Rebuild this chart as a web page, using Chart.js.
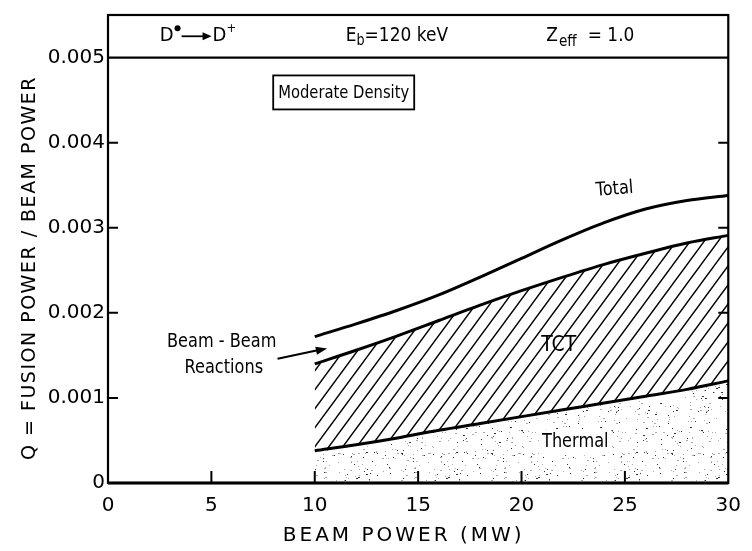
<!DOCTYPE html>
<html>
<head>
<meta charset="utf-8">
<script src="https://cdn.jsdelivr.net/npm/chart.js@4.4.0/dist/chart.umd.min.js"></script>
<style>
  html, body { margin: 0; padding: 0; background: #fff; }
  #wrap { width: 752px; height: 551px; }
</style>
</head>
<body>
<div id="wrap"><canvas id="chart"></canvas></div>
<script>
// beam power (MW)
const beamPower = [10, 12, 14, 16, 18, 20, 22, 24, 26, 28, 30];
// Q values
const qTotal   = [0.00172, 0.00187, 0.00203, 0.00221, 0.00242, 0.00264, 0.00286, 0.00306, 0.00322, 0.00332, 0.00338];
const qTCT     = [0.00140, 0.00156, 0.00173, 0.00191, 0.00209, 0.00226, 0.00242, 0.00257, 0.00270, 0.00282, 0.00291];
const qThermal = [0.00038, 0.00045, 0.00053, 0.00062, 0.00070, 0.00078, 0.00086, 0.00094, 0.00102, 0.00110, 0.00120];
const xTicks = [0, 5, 10, 15, 20, 25, 30];
const yTicks = [0, 0.001, 0.002, 0.003, 0.004, 0.005];

const FONT = '"DejaVu Sans", sans-serif';

const pts = (ys) => beamPower.map((x, i) => ({ x: x, y: ys[i] }));

// hatch pattern for the TCT band
function hatchPattern() {
  const w = 14, h = 19;
  const c = document.createElement("canvas");
  c.width = w; c.height = h;
  const g = c.getContext("2d");
  g.strokeStyle = "#000";
  g.lineWidth = 1.4;
  g.beginPath();
  g.moveTo(-w, 2 * h); g.lineTo(2 * w, -h);
  g.moveTo(-2 * w, 2 * h); g.lineTo(w, -h);
  g.moveTo(0, 2 * h); g.lineTo(3 * w, -h);
  g.stroke();
  return g.createPattern(c, "repeat");
}

// stipple pattern for the thermal area (fixed pseudo-noise, not data)
function stipplePattern() {
  const s = 90;
  const c = document.createElement("canvas");
  c.width = s; c.height = s;
  const g = c.getContext("2d");
  let seed = 98765;
  const next = () => { seed = (seed * 1103515245 + 12345) % 2147483648; return seed / 2147483648; };
  for (let i = 0; i < 240; i++) {
    const x = Math.floor(next() * s), y = Math.floor(next() * s);
    g.fillStyle = next() < 0.35 ? "#333" : "#aaa";
    g.fillRect(x, y, next() < 0.2 ? 2 : 1, 1);
  }
  return g.createPattern(c, "repeat");
}

// text squeezed horizontally to look like the narrow lettering of the plot
function narrowText(ctx, str, x, y, size, sx, align) {
  ctx.save();
  ctx.font = size + "px " + FONT;
  ctx.textAlign = align || "left";
  ctx.translate(x, y);
  ctx.scale(sx, 1);
  ctx.fillText(str, 0, 0);
  const w = ctx.measureText(str).width * sx;
  ctx.restore();
  return w;
}

const framePlugin = {
  id: "frame",
  afterDatasetsDraw(chart) {
    const { ctx, chartArea: a, scales: { x, y } } = chart;
    ctx.save();
    ctx.strokeStyle = "#000";
    ctx.lineWidth = 2.2;
    ctx.strokeRect(a.left, a.top, a.right - a.left, a.bottom - a.top);
    // line at 0.005 under the header band
    const y5 = y.getPixelForValue(0.005);
    ctx.beginPath(); ctx.moveTo(a.left, y5); ctx.lineTo(a.right, y5); ctx.stroke();
    ctx.lineWidth = 3;
    ctx.beginPath(); ctx.moveTo(a.left, a.bottom); ctx.lineTo(a.right, a.bottom); ctx.stroke();
    // inward ticks
    ctx.lineWidth = 2;
    ctx.beginPath();
    yTicks.slice(1, 5).forEach((v) => {
      const py = y.getPixelForValue(v);
      ctx.moveTo(a.left, py); ctx.lineTo(a.left + 10, py);
      ctx.moveTo(a.right, py); ctx.lineTo(a.right - 10, py);
    });
    xTicks.slice(1, 6).forEach((v) => {
      const px = x.getPixelForValue(v);
      ctx.moveTo(px, a.bottom); ctx.lineTo(px, a.bottom - 12);
    });
    ctx.stroke();

    const at = (vx, vy) => [x.getPixelForValue(vx), y.getPixelForValue(vy)];
    ctx.fillStyle = "#000";
    ctx.textBaseline = "middle";

    // header: D0 -> D+
    let [hx, hy] = at(2.5, 0.00525);
    let w = narrowText(ctx, "D", hx, hy, 20, 0.9);
    ctx.beginPath(); ctx.arc(hx + w + 4, hy - 8, 3, 0, Math.PI * 2); ctx.fill();
    ctx.beginPath();
    ctx.lineWidth = 1.8;
    ctx.moveTo(hx + w + 8, hy); ctx.lineTo(hx + w + 32, hy); ctx.stroke();
    ctx.beginPath();
    ctx.moveTo(hx + w + 38, hy); ctx.lineTo(hx + w + 29, hy - 4); ctx.lineTo(hx + w + 29, hy + 4); ctx.closePath(); ctx.fill();
    const w2 = narrowText(ctx, "D", hx + w + 39, hy, 20, 0.9);
    narrowText(ctx, "+", hx + w + 39 + w2, hy - 8, 13, 0.9);

    // Eb = 120 keV
    [hx, hy] = at(11.5, 0.00525);
    w = narrowText(ctx, "E", hx, hy, 20, 0.85);
    w += narrowText(ctx, "b", hx + w, hy + 5, 15, 0.85);
    narrowText(ctx, "=120 keV", hx + w, hy, 20, 0.85);

    // Zeff = 1.0
    [hx, hy] = at(21.2, 0.00525);
    w = narrowText(ctx, "Z", hx, hy, 20, 0.85);
    w += narrowText(ctx, "eff", hx + w + 1, hy + 6, 16, 0.85);
    narrowText(ctx, "= 1.0", hx + w + 12, hy, 20, 0.85);

    // boxed label
    [hx, hy] = at(11.4, 0.00459);
    ctx.lineWidth = 1.8;
    const tw = narrowText(ctx, "Moderate Density", hx, hy + 1, 18, 0.82, "center");
    ctx.strokeRect(hx - tw / 2 - 5, hy - 17, tw + 10, 34);

    // curve labels
    [hx, hy] = at(24.5, 0.00345);
    ctx.save();
    ctx.translate(hx, hy); ctx.rotate(-0.08);
    narrowText(ctx, "Total", 0, 0, 19, 0.85, "center");
    ctx.restore();

    [hx, hy] = at(21.8, 0.00162);
    narrowText(ctx, "TCT", hx, hy, 21, 0.9, "center");

    [hx, hy] = at(22.6, 0.00048);
    ctx.font = "19px " + FONT;
    const th = ctx.measureText("Thermal").width * 0.85;
    ctx.fillStyle = "#fff";
    ctx.fillRect(hx - th / 2 - 3, hy - 13, th + 6, 26);
    ctx.fillStyle = "#000";
    narrowText(ctx, "Thermal", hx, hy, 19, 0.85, "center");

    [hx, hy] = at(5.5, 0.00166);
    narrowText(ctx, "Beam - Beam", hx, hy, 19, 0.85, "center");
    [hx, hy] = at(5.6, 0.00135);
    narrowText(ctx, "Reactions", hx, hy, 19, 0.85, "center");

    // arrow to the beam-beam gap
    const [ax0, ay0] = at(8.2, 0.00146);
    const [ax1, ay1] = at(10.6, 0.00158);
    ctx.lineWidth = 2;
    ctx.beginPath(); ctx.moveTo(ax0, ay0); ctx.lineTo(ax1 - 6, ay1 + 1); ctx.stroke();
    const ang = Math.atan2(ay1 - ay0, ax1 - ax0);
    ctx.beginPath();
    ctx.moveTo(ax1, ay1);
    ctx.lineTo(ax1 - 12 * Math.cos(ang - 0.35), ay1 - 12 * Math.sin(ang - 0.35));
    ctx.lineTo(ax1 - 12 * Math.cos(ang + 0.35), ay1 - 12 * Math.sin(ang + 0.35));
    ctx.closePath(); ctx.fill();

    // axis titles, letter-spaced
    ctx.letterSpacing = "3px";
    ctx.textAlign = "center";
    ctx.font = "20px " + FONT;
    ctx.fillText("BEAM POWER (MW)", x.getPixelForValue(14.3), 536);
    ctx.letterSpacing = "1.5px";
    ctx.save();
    ctx.translate(30, 268);
    ctx.rotate(-Math.PI / 2);
    ctx.font = "19px " + FONT;
    ctx.fillText("Q = FUSION POWER / BEAM POWER", 0, 0);
    ctx.restore();
    ctx.restore();
  }
};

new Chart(document.getElementById("chart"), {
  type: "line",
  data: {
    datasets: [
      {
        label: "Thermal",
        data: pts(qThermal),
        borderColor: "#000",
        borderWidth: 3,
        backgroundColor: stipplePattern(),
        fill: "origin",
        pointRadius: 0,
        cubicInterpolationMode: "monotone",
      },
      {
        label: "TCT",
        data: pts(qTCT),
        borderColor: "#000",
        borderWidth: 3,
        backgroundColor: hatchPattern(),
        fill: "-1",
        pointRadius: 0,
        cubicInterpolationMode: "monotone",
      },
      {
        label: "Total",
        data: pts(qTotal),
        borderColor: "#000",
        borderWidth: 3,
        fill: false,
        pointRadius: 0,
        cubicInterpolationMode: "monotone",
      },
    ],
  },
  options: {
    responsive: true,
    maintainAspectRatio: false,
    animation: false,
    layout: { padding: { top: 10, right: 14, left: 0, bottom: 0 } },
    plugins: { legend: { display: false }, tooltip: { enabled: false } },
    scales: {
      x: {
        type: "linear",
        min: 0,
        max: 30,
        afterFit: (s) => { s.height = 68; },
        afterBuildTicks: (s) => { s.ticks = xTicks.map((v) => ({ value: v })); },
        grid: { display: false, drawTicks: false },
        border: { display: false },
        ticks: { color: "#000", padding: 11, font: { family: FONT, size: 20 } },
      },
      y: {
        min: 0,
        max: 0.0055,
        afterFit: (s) => { s.width = 108; },
        afterBuildTicks: (s) => { s.ticks = yTicks.map((v) => ({ value: v })); },
        grid: { display: false, drawTicks: false },
        border: { display: false },
        ticks: {
          color: "#000",
          padding: 3,
          font: { family: FONT, size: 20 },
          callback: (v) => (v === 0 ? "0" : v.toFixed(3)),
        },
      },
    },
  },
  plugins: [framePlugin],
});
</script>
</body>
</html>
